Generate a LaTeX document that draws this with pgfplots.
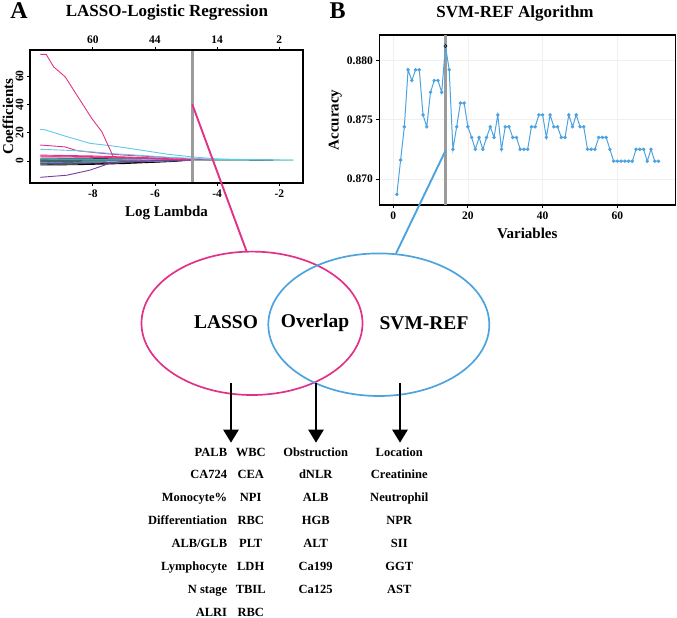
\documentclass[border=0pt]{standalone}
\usepackage{fontspec}
\setmainfont{Liberation Serif}
\usepackage{pgfplots}
\pgfplotsset{compat=1.18}
\usetikzlibrary{arrows.meta}

\definecolor{vpink}{RGB}{226,50,135}
\definecolor{vblue}{RGB}{77,163,224}
\definecolor{lcyan}{RGB}{96,200,232}
\definecolor{lpurple}{RGB}{118,62,160}
\definecolor{lteal}{RGB}{110,205,175}
\definecolor{selgray}{RGB}{155,155,155}

\newcommand{\fs}[1]{\fontsize{#1}{#1}\selectfont\bfseries}

\pgfplotstableread{
x y
1 0.8687
2 0.8716
3 0.8744
4 0.8792
5 0.8783
6 0.8792
7 0.8792
8 0.8754
9 0.8744
10 0.8773
11 0.8783
12 0.8783
13 0.8773
14 0.8812
15 0.8792
16 0.8725
17 0.8744
18 0.8764
19 0.8764
20 0.8744
21 0.8735
22 0.8725
23 0.8735
24 0.8725
25 0.8735
26 0.8744
27 0.8735
28 0.8754
29 0.8725
30 0.8744
31 0.8744
32 0.8735
33 0.8735
34 0.8725
35 0.8725
36 0.8725
37 0.8744
38 0.8744
39 0.8754
40 0.8754
41 0.8735
42 0.8754
43 0.8744
44 0.8744
45 0.8735
46 0.8735
47 0.8754
48 0.8744
49 0.8754
50 0.8744
51 0.8744
52 0.8725
53 0.8725
54 0.8725
55 0.8735
56 0.8735
57 0.8735
58 0.8725
59 0.8715
60 0.8715
61 0.8715
62 0.8715
63 0.8715
64 0.8715
65 0.8725
66 0.8725
67 0.8725
68 0.8715
69 0.8725
70 0.8715
71 0.8715
}\svmdata

\begin{document}
\begin{tikzpicture}
\path[use as bounding box] (0,0) rectangle (677pt,618pt);

% ---- A: LASSO paths
\begin{axis}[at={(30pt,435pt)}, anchor=south west, scale only axis,
  width=273pt, height=133pt,
  xmin=-10.02, xmax=-1.24, ymin=-15.5, ymax=78.4,
  xtick={-8,-6,-4,-2}, ytick={0,20,40,60},
  xtick pos=left, ytick pos=left,
  axis line style={line width=1.6pt},
  tick align=outside, major tick length=3pt,
  tick style={black, line width=0.8pt},
  ticklabel style={font=\fs{11.5}},
  /pgf/number format/assume math mode=true,
  yticklabel style={rotate=90, anchor=south},
  xlabel={Log Lambda}, ylabel={Coefficients},
  xlabel style={font=\fs{15}, at={(axis description cs:0.5,-0.2256)}, anchor=center},
  ylabel style={font=\fs{15}, at={(axis description cs:-0.0806,0.5)}, anchor=center},
  every axis plot/.append style={line width=0.9pt}]
\addplot[lteal] coordinates {(-4.8,0.7) (-3,0.7) (-1.55,0.6)};
\addplot[black!70!lteal] coordinates {(-4.8,0.7) (-3.0,0.7) (-2.2,0.65)};
\addplot[black] coordinates {(-9.69,2.0) (-8,1.8) (-6,1.2) (-4.8,0.7)};
\addplot[black] coordinates {(-9.69,1.2) (-7.5,1.1) (-4.8,0.7)};
\addplot[black] coordinates {(-9.69,0.4) (-7.5,0.45) (-4.8,0.7)};
\addplot[black] coordinates {(-9.69,-0.4) (-7,-0.2) (-4.8,0.7)};
\addplot[black] coordinates {(-9.69,-1.2) (-8,-1.0) (-6,-0.2) (-4.8,0.7)};
\addplot[black] coordinates {(-9.69,-2.0) (-8,-1.8) (-6,-0.6) (-4.8,0.7)};
\addplot[black] coordinates {(-9.69,-2.8) (-8.5,-2.6) (-7,-1.8) (-5.5,-0.4) (-4.8,0.7)};
\addplot[gray] coordinates {(-9.69,0.0) (-7.5,0.1) (-5.5,0.4) (-4.8,0.7)};
\addplot[lteal] coordinates {(-9.69,0.8) (-7,0.8) (-4.8,0.7)};
\addplot[lteal] coordinates {(-9.69,-1.6) (-8,-1.2) (-6,-0.2) (-4.8,0.7)};
\addplot[lcyan] coordinates {(-9.69,1.6) (-7,1.4) (-5,0.8) (-4.8,0.7)};
\addplot[lcyan] coordinates {(-9.69,-0.8) (-8,-0.6) (-6,0) (-4.8,0.7)};
\addplot[lpurple] coordinates {(-9.69,-1.8) (-8,-1.4) (-6.5,-0.3) (-4.8,0.7)};
\addplot[vpink] coordinates {(-9.69,4.2) (-8,3.6) (-6,2.2) (-4.8,0.7)};
\addplot[vpink] coordinates {(-9.69,3.6) (-8.5,3.3) (-7,2.6) (-5.5,1.4) (-4.8,0.7)};
\addplot[vpink] coordinates {(-9.69,3.0) (-8.5,2.8) (-7,2.2) (-5.5,1.2) (-4.8,0.7)};
\addplot[vpink] coordinates {(-9.69,11.3) (-8.9,10.0) (-8.5,7.3) (-7.7,5.4) (-7.0,4.2) (-6.0,3.0) (-4.8,1.4) (-4.2,0.7)};
\addplot[lpurple] coordinates {(-9.69,-11.5) (-8.83,-10.0) (-8.09,-6.4) (-7.45,-1.6) (-7.0,-0.2) (-6.0,0.3) (-4.8,0.7)};
\addplot[lcyan] coordinates {(-9.69,8.3) (-8.5,7.3) (-7.4,5.3) (-6.4,3.9) (-5.6,2.7) (-4.8,1.9) (-4.0,1.2) (-3.0,0.8) (-2.2,0.7)};
\addplot[lcyan] coordinates {(-9.69,22.4) (-9.53,22) (-8.83,17.2) (-8.09,12.5) (-7.34,10.6) (-6.48,7.8) (-5.63,4.9) (-4.83,3) (-4.0,1.5) (-3.0,1.0) (-2.2,0.8) (-1.55,0.7)};
\addplot[vpink] coordinates {(-9.69,75.3) (-9.5,75.3) (-9.26,66.5) (-8.89,59.5) (-8.41,43) (-8.03,30) (-7.71,20.7) (-7.34,3) (-7.0,2.2) (-6.0,1.6) (-4.8,0.8)};
\addplot[selgray, line width=2.4pt] coordinates {(-4.8,-15.5) (-4.8,78.4)};
\coordinate (pA) at (axis cs:-4.8,40);
\end{axis}
% top axis of A (degrees of freedom)
\begin{axis}[at={(30pt,435pt)}, anchor=south west, scale only axis,
  width=273pt, height=133pt,
  xmin=-10.02, xmax=-1.24, ymin=0, ymax=1,
  hide y axis,
  xtick={-8,-6,-4,-2}, xticklabels={60,44,14,2},
  xtick pos=right, xticklabel pos=right,
  axis line style={line width=1.6pt},
  tick align=outside, major tick length=3pt,
  tick style={black, line width=0.8pt},
  ticklabel style={font=\fs{11.5}}]
\end{axis}

% ---- B: SVM-RFE accuracy
\begin{axis}[at={(379.3pt,413pt)}, anchor=south west, scale only axis,
  width=296pt, height=170pt,
  xmin=-3.7, xmax=75.5, ymin=0.86781, ymax=0.88213,
  xtick={0,20,40,60}, ytick={0.870,0.875,0.880},
  scaled y ticks=false,
  yticklabel style={/pgf/number format/.cd, fixed, fixed zerofill, precision=3},
  xtick pos=left, ytick pos=left,
  grid=major, grid style={gray!12, line width=0.6pt},
  axis line style={line width=1.6pt},
  tick align=outside, major tick length=3pt,
  tick style={black, line width=0.8pt},
  ticklabel style={font=\fs{11.5}},
  /pgf/number format/assume math mode=true,
  xlabel={Variables}, ylabel={Accuracy},
  xlabel style={font=\fs{15}, at={(axis description cs:0.5,-0.165)}, anchor=center},
  ylabel style={font=\fs{15}, at={(axis description cs:-0.1486,0.5)}, anchor=center}]
\addplot[selgray, line width=2.4pt] coordinates {(14,0.86781) (14,0.88213)};
\addplot[vblue, line width=1pt, mark=*, mark size=1.2pt, mark options={fill=vblue, draw=vblue}] table[x=x, y=y] {\svmdata};
\addplot[only marks, mark=o, mark size=1.6pt, black, line width=0.5pt] coordinates {(14,0.8812)};
\coordinate (pB) at (axis cs:14,0.87238);
\end{axis}

% ---- titles
\node[font=\fs{24}, anchor=base] at (19pt,599.7pt) {A};
\node[font=\fs{17}, anchor=base] at (167pt,601.3pt) {LASSO-Logistic Regression};
\node[font=\fs{24}, anchor=base] at (337.5pt,599.7pt) {B};
\node[font=\fs{17}, anchor=base] at (515pt,600.7pt) {SVM-REF Algorithm};

% ---- connectors and Venn
\draw[vpink, line width=1.9pt] (pA) -- (246.7pt,366.3pt);
\draw[vblue, line width=1.9pt] (pB) -- (396pt,364.5pt);
\draw[vpink, line width=1.7pt] (252pt,294.7pt) ellipse [x radius=110.5pt, y radius=71.7pt];
\draw[vblue, line width=1.7pt] (378.8pt,293.3pt) ellipse [x radius=110.5pt, y radius=71.3pt];
\node[font=\fs{19.5}, anchor=base] at (226pt,289.7pt) {LASSO};
\node[font=\fs{19.5}, anchor=base] at (315pt,290.5pt) {Overlap};
\node[font=\fs{19.5}, anchor=base] at (424pt,288.7pt) {SVM-REF};

\foreach \xx in {231,316,400}
  \draw[line width=2.6pt, -{Triangle[width=15pt,length=13pt]}] (\xx pt,235pt) -- (\xx pt,175.3pt);

% ---- selected variables
\begin{scope}[every node/.style={font=\fs{12.5}, inner sep=0pt}]
\foreach \yy/\a/\b/\c/\d in {161.8/PALB/WBC/Obstruction/Location,
  139.2/CA724/CEA/dNLR/Creatinine,
  116.5/Monocyte\%/NPI/ALB/Neutrophil,
  93.5/Differentiation/RBC/HGB/NPR,
  70.2/ALB\slash GLB/PLT/ALT/SII,
  47.5/Lymphocyte/LDH/Ca199/GGT,
  24.2/N stage/TBIL/Ca125/AST,
  1.5/ALRI/RBC//}{
  \node[anchor=base east] at (227.3pt,\yy pt) {\a};
  \node[anchor=base] at (250.7pt,\yy pt) {\b};
  \node[anchor=base] at (315.7pt,\yy pt) {\c};
  \node[anchor=base] at (399.3pt,\yy pt) {\d};
}
\end{scope}
\end{tikzpicture}
\end{document}
